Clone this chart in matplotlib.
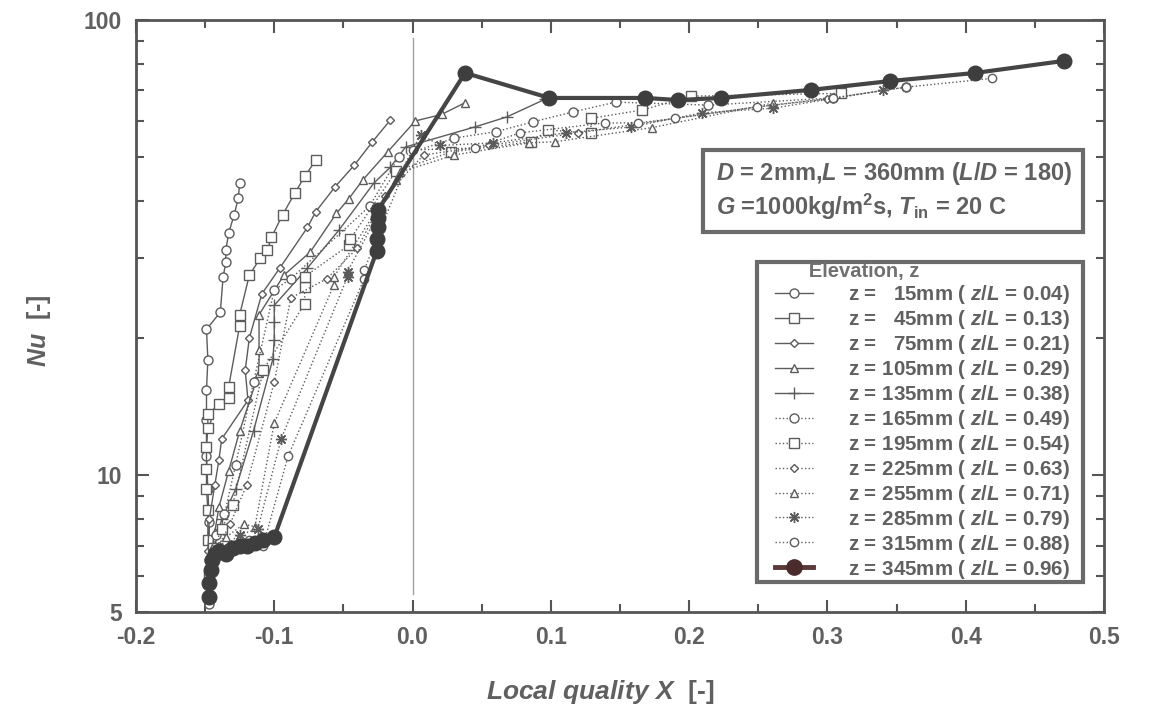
import numpy as np
import matplotlib
matplotlib.use("Agg")
import matplotlib.pyplot as plt
from matplotlib.lines import Line2D
from matplotlib.patches import Rectangle

plt.rcParams['font.family'] = ['Liberation Sans', 'DejaVu Sans']
plt.rcParams['font.weight'] = 'bold'
plt.rcParams['axes.labelweight'] = 'bold'
plt.rcParams['mathtext.fontset'] = 'custom'
plt.rcParams['mathtext.it'] = 'Liberation Sans:italic:bold'
plt.rcParams['mathtext.rm'] = 'Liberation Sans:bold'
plt.rcParams['mathtext.bf'] = 'Liberation Sans:bold'

# ---------------- data (local quality X, Nusselt number Nu) ----------------
x_15 = [-0.147, -0.147, -0.147, -0.148, -0.149, -0.149, -0.149, -0.148, -0.149, -0.139,
        -0.137, -0.135, -0.135, -0.133, -0.129, -0.126, -0.125]
nu_15 = [5.2, 6.5, 7.9, 9.3, 11.0, 13.2, 15.4, 17.9, 20.9, 22.8,
         27.2, 29.4, 31.2, 34.0, 37.3, 40.6, 43.9]

x_45 = [-0.148, -0.148, -0.149, -0.149, -0.149, -0.148, -0.148, -0.140, -0.133, -0.133,
        -0.125, -0.125, -0.118, -0.110, -0.105, -0.102, -0.094, -0.085, -0.078, -0.070]
nu_45 = [7.2, 8.4, 9.3, 10.3, 11.5, 12.7, 13.6, 14.3, 14.8, 15.6,
         21.3, 22.5, 27.5, 30.0, 31.2, 33.3, 37.3, 41.7, 45.3, 49.2]

x_75 = [-0.148, -0.147, -0.143, -0.140, -0.138, -0.119, -0.121, -0.118, -0.109, -0.096,
        -0.076, -0.070, -0.056, -0.042, -0.029, -0.016]
nu_75 = [6.8, 8.0, 9.5, 10.8, 12.0, 14.6, 17.0, 20.0, 25.0, 28.5,
         35.0, 37.9, 43.0, 48.0, 54.0, 60.3]

x_105 = [-0.146, -0.143, -0.140, -0.133, -0.125, -0.111, -0.111, -0.111, -0.093, -0.074,
         -0.055, -0.046, -0.036, -0.018, 0.002, 0.021, 0.038]
nu_105 = [6.6, 7.5, 8.5, 10.2, 12.5, 16.8, 18.8, 22.5, 27.5, 30.9,
          37.6, 40.5, 44.5, 51.3, 60.0, 62.0, 65.8]

x_135 = [-0.146, -0.143, -0.138, -0.128, -0.115, -0.101, -0.100, -0.100, -0.100, -0.076,
         -0.053, -0.028, -0.016, -0.005, 0.045, 0.068, 0.096]
nu_135 = [6.2, 7.0, 8.0, 9.3, 12.5, 18.0, 19.8, 21.7, 23.6, 28.5,
          34.6, 43.8, 47.5, 52.6, 58.2, 61.2, 67.0]

x_165 = [-0.147, -0.145, -0.142, -0.136, -0.128, -0.115, -0.100, -0.088, -0.031, -0.010,
         0.030, 0.060, 0.087, 0.116, 0.147, 0.214, 0.304, 0.357]
nu_165 = [5.8, 6.6, 7.4, 8.2, 10.5, 16.0, 25.5, 27.0, 39.0, 50.0,
          55.0, 56.8, 59.7, 62.8, 66.0, 65.0, 67.4, 71.2]

x_195 = [-0.147, -0.144, -0.138, -0.130, -0.108, -0.078, -0.078, -0.078, -0.046, -0.045,
         -0.012, 0.028, 0.086, 0.098, 0.129, 0.129, 0.166, 0.201, 0.310]
nu_195 = [6.0, 6.9, 7.6, 8.6, 17.0, 23.8, 25.9, 27.3, 32.0, 33.0,
          46.5, 51.3, 54.0, 57.3, 56.5, 60.8, 63.4, 68.0, 69.0]

x_225 = [-0.146, -0.140, -0.132, -0.120, -0.100, -0.088, -0.062, -0.040, -0.020, 0.008,
         0.055, 0.120, 0.190, 0.249, 0.300]
nu_225 = [6.3, 7.0, 7.8, 9.5, 16.0, 24.5, 27.0, 31.5, 41.0, 50.5,
          53.0, 56.5, 60.8, 64.4, 67.0]

x_255 = [-0.145, -0.135, -0.122, -0.114, -0.100, -0.057, -0.057, -0.012, -0.009, 0.030,
         0.084, 0.103, 0.173, 0.261]
nu_255 = [6.9, 7.3, 7.8, 7.7, 13.0, 26.1, 27.2, 44.5, 46.3, 50.5,
          53.7, 54.0, 58.0, 65.7]

x_285 = [-0.145, -0.138, -0.125, -0.112, -0.095, -0.047, -0.047, 0.006, 0.020, 0.058,
         0.111, 0.158, 0.209, 0.261, 0.340]
nu_285 = [6.4, 6.9, 7.4, 7.6, 12.0, 27.3, 28.0, 56.0, 53.0, 53.7,
          56.5, 58.2, 62.5, 64.0, 70.0]

x_315 = [-0.144, -0.132, -0.118, -0.108, -0.090, -0.035, -0.035, 0.000, 0.045, 0.078,
         0.139, 0.163, 0.190, 0.249, 0.304, 0.357, 0.419]
nu_315 = [6.7, 7.0, 7.2, 7.0, 11.0, 27.0, 28.2, 51.8, 52.3, 56.5,
          59.4, 59.4, 60.8, 64.4, 67.4, 71.2, 74.4]

x_345 = [-0.147, -0.147, -0.146, -0.145, -0.143, -0.140, -0.135, -0.130, -0.125, -0.120,
         -0.114, -0.108, -0.100, -0.026, -0.026, -0.025, -0.025, -0.025, 0.038, 0.099,
         0.168, 0.192, 0.223, 0.288, 0.345, 0.407, 0.471]
nu_345 = [5.4, 5.8, 6.2, 6.5, 6.7, 6.8, 6.7, 6.9, 7.0, 7.0,
          7.1, 7.2, 7.3, 31.0, 33.0, 35.0, 36.8, 38.2, 76.5, 67.4,
          67.4, 66.7, 67.4, 70.2, 73.4, 76.5, 81.3]

labels = [
    "z =   15mm ( $z/L$ = 0.04)",
    "z =   45mm ( $z/L$ = 0.13)",
    "z =   75mm ( $z/L$ = 0.21)",
    "z = 105mm ( $z/L$ = 0.29)",
    "z = 135mm ( $z/L$ = 0.38)",
    "z = 165mm ( $z/L$ = 0.49)",
    "z = 195mm ( $z/L$ = 0.54)",
    "z = 225mm ( $z/L$ = 0.63)",
    "z = 255mm ( $z/L$ = 0.71)",
    "z = 285mm ( $z/L$ = 0.79)",
    "z = 315mm ( $z/L$ = 0.88)",
    "z = 345mm ( $z/L$ = 0.96)",
]

x_ticks = [-0.2, -0.1, 0.0, 0.1, 0.2, 0.3, 0.4, 0.5]
y_ticks = [5, 10, 100]

# ---------------- figure ----------------
TXT = '#606060'
LC = '#5c5c5c'
fig = plt.figure(figsize=(11.7, 7.06), dpi=100)
ax = fig.add_axes([0.1162, 0.1331, 0.8274, 0.8386])

series = [
    (x_15, nu_15, '-', 'o', 6.5),
    (x_45, nu_45, '-', 's', 6.5),
    (x_75, nu_75, '-', 'D', 4.5),
    (x_105, nu_105, '-', '^', 6.0),
    (x_135, nu_135, '-', '+', 8.0),
    (x_165, nu_165, ':', 'o', 6.5),
    (x_195, nu_195, ':', 's', 6.5),
    (x_225, nu_225, ':', 'D', 4.5),
    (x_255, nu_255, ':', '^', 6.0),
    (x_285, nu_285, ':', (8, 2, 0), 8.0),
    (x_315, nu_315, ':', 'o', 6.0),
]

handles = []
for (xs, ys, ls, mk, ms), lab in zip(series, labels[:-1]):
    ln, = ax.plot(xs, ys, linestyle=ls, color=LC, lw=1.0, marker=mk, ms=ms,
                  mfc='white', mec=LC, mew=1.0, label=lab, zorder=3)
    handles.append(ln)

ln345, = ax.plot(x_345, nu_345, '-', color='#454545', lw=3.0, marker='o', ms=10.5,
                 mfc='#3e3e3e', mec='#3e3e3e', label=labels[-1], zorder=4)
leg345 = Line2D([], [], color='#5a3a3a', lw=3.5, marker='o', ms=11,
                mfc='#4a2c2c', mec='#4a2c2c')
handles.append(leg345)

ax.axvline(0.0, ymin=0.03, ymax=0.97, color='#a0a0a0', lw=1.0, zorder=1)

ax.set_yscale('log')
ax.set_xlim(-0.2, 0.5)
ax.set_ylim(5, 100)
ax.set_xticks(x_ticks)
ax.set_xticklabels([f"{v:.1f}" for v in x_ticks])
ax.set_xticks(np.arange(-0.15, 0.5, 0.1), minor=True)
ax.set_yticks(y_ticks)
ax.set_yticklabels([str(v) for v in y_ticks])
ax.set_yticks([6, 7, 8, 9, 20, 30, 40, 50, 60, 70, 80, 90], minor=True)
ax.yaxis.set_minor_formatter(matplotlib.ticker.NullFormatter())

ax.tick_params(which='both', direction='in', top=True, right=True,
               colors='#555555', labelcolor=TXT, width=1.5)
ax.tick_params(which='major', length=9, labelsize=16.5, pad=10)
ax.tick_params(which='minor', length=6)
for s in ax.spines.values():
    s.set_color('#555555')
    s.set_linewidth(2.0)

ax.set_xlabel(r"$Local\ quality\ X$  [-]", fontsize=19, color=TXT, labelpad=21)
ax.xaxis.label.set_x(0.480)
ax.set_ylabel(r"$Nu$  [-]", fontsize=18, color=TXT, labelpad=22)
ax.yaxis.label.set_y(0.476)

# info box
ax.add_patch(Rectangle((0.5857, 0.642), 0.3923, 0.138, transform=ax.transAxes,
                       fill=True, fc='white', ec='#6a6a6a', lw=3, zorder=5))
ax.text(0.5990, 0.740, r"$D$ = 2mm,$L$ = 360mm ($L/D$ = 180)", transform=ax.transAxes,
        fontsize=17, color=TXT, va='center', ha='left', zorder=6)
ax.text(0.5990, 0.685, r"$G$ =1000kg/m$^2$s, $T_{\rm in}$ = 20 C", transform=ax.transAxes,
        fontsize=17, color=TXT, va='center', ha='left', zorder=6)

# legend frame drawn separately
ax.add_patch(Rectangle((0.6415, 0.0507), 0.3368, 0.5405, transform=ax.transAxes,
                       fill=True, fc='white', ec='#6a6a6a', lw=3, zorder=5))
leg = ax.legend(handles=handles, labels=labels, loc='upper left',
                bbox_to_anchor=(0.660, 0.591), fontsize=14.8, title="      Elevation, z",
                title_fontsize=14.5, frameon=False, labelspacing=0.095, handlelength=1.85,
                handletextpad=1.7, borderpad=0.0, borderaxespad=0)
leg._legend_box.align = 'left'
leg.get_title().set_color('#707070')
for t in leg.get_texts():
    t.set_color(TXT)
leg.set_zorder(6)

fig.savefig("out.png", dpi=100)
